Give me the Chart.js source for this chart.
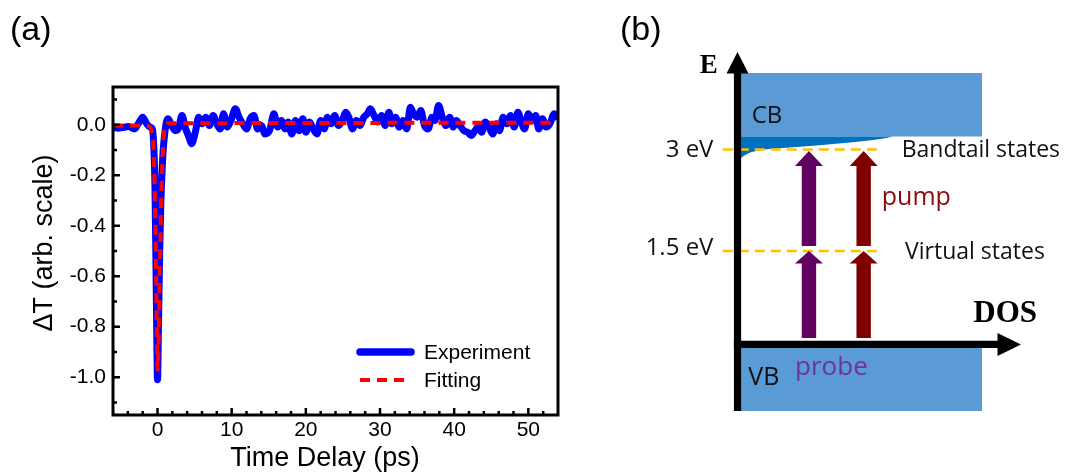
<!DOCTYPE html>
<html><head><meta charset="utf-8">
<script src="https://cdn.jsdelivr.net/npm/chart.js@4.4.1/dist/chart.umd.min.js"></script>
<style>
html,body{margin:0;padding:0;background:#fff;width:1079px;height:475px;overflow:hidden}
#wa{position:absolute;left:0;top:0;width:600px;height:475px}
#wb{position:absolute;left:600px;top:0;width:479px;height:475px}
</style></head><body>
<div id="wa"><canvas id="ca"></canvas></div>
<div id="wb"><canvas id="cb"></canvas></div>
<script>
// ---------- Panel (a) data ----------
const seriesNames = ['Experiment', 'Fitting'];
const axisTitles = ['Time Delay (ps)', 'ΔT (arb. scale)'];
const expTime = [-5.9,-5.3,-4.8,-3.9,-3.1,-2.6,-2.0,-1.45,-1.0,-0.7,-0.48,-0.34,-0.2,-0.1,0,0.15,0.3,0.43,0.58,0.77,0.97,1.2,1.45,1.9,2.4,2.8,3.3,3.8,4.25,4.6,5.1,5.55,6.0,6.5,7.0,7.5,8.0,8.45,8.9,9.4,9.9,10.5,11.0,11.5,12.0,12.5,13.0,13.5,14.0,14.5,15.1,15.7,16.2,16.7,17.2,17.6,18.1,18.6,19.1,19.6,20.0,20.5,21.0,21.5,22.0,22.5,22.9,23.4,23.9,24.4,24.9,25.4,25.8,26.3,26.8,27.3,27.8,28.3,28.7,29.2,29.7,30.2,30.7,31.2,31.6,32.1,32.6,33.1,33.6,34.1,34.5,35.0,35.5,36.0,36.5,37.0,37.4,37.9,38.4,38.9,39.4,39.9,40.3,40.8,41.3,41.8,42.3,42.8,43.2,43.7,44.2,44.7,45.2,45.7,46.1,46.6,47.1,47.6,48.1,48.6,49.0,49.5,50.0,50.5,51.0,51.4,51.9,52.4,52.9,53.5,54.0];
const expSignal = [-0.009,-0.013,-0.011,-0.007,-0.016,0.004,0.030,0.004,-0.009,-0.016,-0.10,-0.25,-0.57,-0.83,-1.01,-0.76,-0.50,-0.33,-0.21,-0.10,-0.036,0.011,0.024,-0.003,-0.023,-0.016,0.037,-0.016,-0.049,-0.075,-0.029,0.030,0.004,0.030,-0.003,0.037,0.004,-0.016,0.044,-0.009,0.017,0.064,0.030,0.004,-0.016,0.024,0.037,-0.016,-0.003,-0.036,-0.023,0.044,-0.009,0.017,-0.016,0.011,-0.036,0.017,-0.023,0.024,-0.029,0.011,-0.016,-0.036,0.017,-0.016,0.030,0.004,0.037,-0.003,0.017,0.050,0.030,-0.016,0.017,-0.003,0.030,0.044,0.064,0.037,0.011,0.037,-0.003,0.050,0.004,0.030,-0.009,0.017,-0.016,0.070,0.044,0.030,0.057,-0.003,-0.016,0.030,0.017,0.077,0.030,-0.003,0.030,-0.009,0.017,-0.003,-0.023,-0.029,-0.042,-0.023,-0.009,-0.029,0.011,-0.009,-0.036,0.004,-0.023,0.030,0.004,0.037,-0.009,0.050,0.017,-0.016,0.044,0.017,0.037,-0.016,0.024,-0.009,0.004,0.044,0.024];
const fitTime = [-6,-1.5,-1.0,-0.7,-0.5,-0.35,-0.2,-0.1,0,0.1,0.2,0.3,0.4,0.5,0.65,0.8,1.0,1.3,54];
const fitSignal = [-0.003,-0.003,-0.01,-0.04,-0.12,-0.3,-0.55,-0.8,-0.97,-0.93,-0.78,-0.6,-0.45,-0.3,-0.15,-0.06,-0.01,0.006,0.008];
const xTickValues = [0,10,20,30,40,50];
const yTickValues = [-1.0,-0.8,-0.6,-0.4,-0.2,0.0];

// ---------- Panel (b) data ----------
const bandNames = ['CB', 'VB'];
const bandTop = [4.13, 0.067];
const bandBottom = [3.19, -0.865];
const bandRight = 8.63;
const tailDOS = [0, 0.09, 0.32, 0.68, 1.25, 2.2, 3.37, 4.56, 5.26, 5.49];
const tailEnergy = [2.86, 2.87, 2.93, 2.98, 3.01, 3.04, 3.08, 3.13, 3.17, 3.19];
const levelEnergy = [3, 1.5];
const levelTickLabels = ['3 eV', '1.5 eV'];
const levelNames = ['Bandtail states', 'Virtual states'];
const levelSpan = [-0.52, 5.13];
const beamNames = ['probe', 'pump'];
const beamDOS = [2.52, 4.45];
const arrowFrom = [0.214, 1.574];
const arrowTo = [1.5, 2.978];
const axisNames = ['E', 'DOS'];
const dosAxisEnergy = 0.118;

const ARIAL = "'Liberation Sans', Arial, sans-serif";
Chart.defaults.font.family = ARIAL;
Chart.defaults.color = '#000';
Chart.defaults.animation = false;

const BLUE = '#0000ff', RED = '#ff0000';

// ---------- Panel (a) ----------
const frameA = {
  id: 'frameA',
  afterDatasetsDraw(chart) {
    const {ctx, chartArea: a, scales: {x, y}} = chart;
    ctx.save();
    ctx.strokeStyle = '#000';
    ctx.lineWidth = 2.5;
    ctx.beginPath();
    for (let v = -4; v <= 54; v += 2) {
      const px = x.getPixelForValue(v);
      if (px <= a.left + 2 || px >= a.right - 2) continue;
      const len = (v % 10 === 0) ? 7 : 4;
      ctx.moveTo(px, a.bottom); ctx.lineTo(px, a.bottom - len);
    }
    for (let k = -11; k <= 1; k++) {
      const py = y.getPixelForValue(k / 10);
      if (py <= a.top + 2 || py >= a.bottom - 2) continue;
      const len = (k % 2 === 0) ? 7 : 4;
      ctx.moveTo(a.left, py); ctx.lineTo(a.left + len, py);
    }
    ctx.stroke();
    ctx.lineWidth = 3;
    ctx.strokeRect(a.left, a.top, a.right - a.left, a.bottom - a.top);
    // legend
    const ds = chart.data.datasets;
    const lx0 = a.left + 247, lx1 = a.left + 298, tx = a.left + 311;
    const rows = [a.bottom - 63, a.bottom - 35];
    ctx.font = '21px ' + ARIAL;
    ctx.textBaseline = 'middle';
    ctx.textAlign = 'left';
    ctx.fillStyle = '#000';
    ds.forEach((d, i) => {
      ctx.save();
      ctx.strokeStyle = d.borderColor;
      ctx.lineWidth = i === 0 ? 7.5 : 4;
      ctx.lineCap = i === 0 ? 'round' : 'butt';
      ctx.setLineDash(i === 0 ? [] : [10, 7]);
      ctx.beginPath(); ctx.moveTo(lx0, rows[i]); ctx.lineTo(i === 0 ? lx1 : lx1 - 6, rows[i]); ctx.stroke();
      ctx.restore();
      ctx.fillText(d.label, tx, rows[i] + 1);
    });
    // axis titles
    ctx.font = '27px ' + ARIAL;
    ctx.textAlign = 'center';
    ctx.textBaseline = 'middle';
    ctx.fillText(axisTitles[0], 325, 459);
    ctx.save();
    ctx.translate(45, 243);
    ctx.rotate(-Math.PI / 2);
    ctx.fillText(axisTitles[1], 0, 0);
    ctx.restore();
    // panel label
    ctx.font = '34px ' + ARIAL;
    ctx.textBaseline = 'alphabetic';
    ctx.textAlign = 'left';
    ctx.fillText('(a)', 10, 40);
    ctx.restore();
  }
};

new Chart(document.getElementById('ca'), {
  type: 'line',
  data: {
    datasets: [
      {label: seriesNames[0], data: expTime.map((t, i) => ({x: t, y: expSignal[i]})),
       borderColor: BLUE, borderWidth: 7, pointRadius: 0, cubicInterpolationMode: 'monotone', order: 1, fill: false},
      {label: seriesNames[1], data: fitTime.map((t, i) => ({x: t, y: fitSignal[i]})),
       borderColor: RED, borderWidth: 4, borderDash: [10, 7], pointRadius: 0, cubicInterpolationMode: 'monotone', order: 0, fill: false}
    ]
  },
  options: {
    responsive: true, maintainAspectRatio: false, animation: false,
    layout: {padding: {left: 0, right: 42, top: 87, bottom: 0}},
    plugins: {legend: {display: false}, tooltip: {enabled: false}},
    scales: {
      x: {
        type: 'linear', min: -6, max: 54,
        afterFit: s => { s.height = 60; },
        afterBuildTicks: s => { s.ticks = xTickValues.map(v => ({value: v})); },
        grid: {display: false, drawTicks: false}, border: {display: false},
        ticks: {padding: 3, font: {size: 21}, maxRotation: 0, autoSkip: false, color: '#000'},
        title: {display: false, text: axisTitles[0]}
      },
      y: {
        type: 'linear', min: -1.15, max: 0.15,
        afterFit: s => { s.width = 113; },
        afterBuildTicks: s => { s.ticks = yTickValues.map(v => ({value: v})); },
        grid: {display: false, drawTicks: false}, border: {display: false},
        ticks: {padding: 7, font: {size: 21}, autoSkip: false, color: '#000', callback: v => Number(v).toFixed(1)},
        title: {display: false, text: axisTitles[1]}
      }
    }
  },
  plugins: [frameA]
});

// ---------- Panel (b) ----------
const SANS = "'Open Sans', 'Liberation Sans', sans-serif";
const SERIF = "'Liberation Serif', 'DejaVu Serif', serif";
const diagramLabels = [
  {text: axisNames[0], x: -0.7, e: 4.126, align: 'right', font: 'bold 27px ' + SERIF, color: '#000'},
  {text: axisNames[1], x: 8.32, e: 0.455, align: 'left', font: 'bold 31px ' + SERIF, color: '#000'},
  {text: bandNames[0], x: 0.5, e: 3.387, align: 'left', font: '24px ' + SANS, color: '#111'},
  {text: bandNames[1], x: 0.38, e: -0.48, align: 'left', font: '25px ' + SANS, color: '#111'},
  {text: levelTickLabels[0], x: -0.85, e: 2.894, align: 'right', font: '24px ' + SANS, color: '#111'},
  {text: levelTickLabels[1], x: -0.85, e: 1.441, align: 'right', font: '24px ' + SANS, color: '#111'},
  {text: levelNames[0], x: 5.79, e: 2.889, align: 'left', font: '23px ' + SANS, color: '#111'},
  {text: levelNames[1], x: 5.91, e: 1.382, align: 'left', font: '23px ' + SANS, color: '#111'},
  {text: beamNames[1], x: 5.09, e: 2.18, align: 'left', font: '25px ' + SANS, color: '#8b0a0a'},
  {text: beamNames[0], x: 2.03, e: -0.332, align: 'left', font: '26px ' + SANS, color: '#7030a0'}
];
const beamColors = ['#600060', '#7f0000'];

function upArrow(ctx, cx, yb, yt, shaftW, headW, headL) {
  ctx.beginPath();
  ctx.moveTo(cx - shaftW / 2, yb);
  ctx.lineTo(cx - shaftW / 2, yt + headL);
  ctx.lineTo(cx - headW / 2, yt + headL);
  ctx.lineTo(cx, yt);
  ctx.lineTo(cx + headW / 2, yt + headL);
  ctx.lineTo(cx + shaftW / 2, yt + headL);
  ctx.lineTo(cx + shaftW / 2, yb);
  ctx.closePath();
  ctx.fill();
}

const diagram = {
  id: 'diagram',
  afterDatasetsDraw(chart) {
    const {ctx, scales: {x, y}} = chart;
    ctx.save();
    beamDOS.forEach((d, i) => {
      ctx.fillStyle = beamColors[i];
      const cx = x.getPixelForValue(d);
      arrowFrom.forEach((f, j) => {
        upArrow(ctx, cx, y.getPixelForValue(f), y.getPixelForValue(arrowTo[j]), 14.4, 28, j === 0 ? 12.5 : 15);
      });
    });
    ctx.fillStyle = '#000';
    const ax = x.getPixelForValue(0);
    const yTop = y.getPixelForValue(y.max);
    const yBot = y.getPixelForValue(bandBottom[1]);
    upArrow(ctx, ax, yBot, yTop, 7.2, 22, 21.5);
    const ay = y.getPixelForValue(dosAxisEnergy);
    const xR = x.getPixelForValue(x.max);
    ctx.beginPath();
    ctx.moveTo(ax - 3.6, ay - 3.6);
    ctx.lineTo(xR - 23.5, ay - 3.6);
    ctx.lineTo(xR - 23.5, ay - 11.5);
    ctx.lineTo(xR, ay);
    ctx.lineTo(xR - 23.5, ay + 11.5);
    ctx.lineTo(xR - 23.5, ay + 3.6);
    ctx.lineTo(ax - 3.6, ay + 3.6);
    ctx.closePath();
    ctx.fill();
    ctx.textBaseline = 'alphabetic';
    diagramLabels.forEach(l => {
      ctx.font = l.font;
      ctx.fillStyle = l.color;
      ctx.textAlign = l.align;
      ctx.fillText(l.text, x.getPixelForValue(l.x), y.getPixelForValue(l.e));
    });
    ctx.font = '34px ' + ARIAL;
    ctx.fillStyle = '#000';
    ctx.textAlign = 'left';
    ctx.fillText('(b)', 20, 40);
    ctx.restore();
  }
};

const bandDatasets = bandTop.map((t, i) => ({
  label: bandNames[i],
  data: [{x: 0, y: t}, {x: bandRight, y: t}],
  fill: {value: bandBottom[i]}, backgroundColor: '#5b9bd5', borderWidth: 0, pointRadius: 0, order: 3
}));
const tailDataset = {
  label: 'tail',
  data: tailDOS.map((d, i) => ({x: d, y: tailEnergy[i]})),
  fill: {value: bandBottom[0]}, backgroundColor: '#0070c0', borderWidth: 0, pointRadius: 0,
  cubicInterpolationMode: 'monotone', order: 2
};
const levelDatasets = levelEnergy.map((e, i) => ({
  label: levelNames[i],
  data: [{x: levelSpan[0], y: e}, {x: levelSpan[1], y: e}],
  borderColor: '#ffc000', borderWidth: 2.5, borderDash: [10, 6], pointRadius: 0, fill: false, order: 1
}));

new Chart(document.getElementById('cb'), {
  type: 'line',
  data: {datasets: [...bandDatasets, tailDataset, ...levelDatasets]},
  options: {
    responsive: true, maintainAspectRatio: false, animation: false,
    layout: {padding: {left: 120.5, right: 58, top: 52, bottom: 63}},
    plugins: {legend: {display: false}, tooltip: {enabled: false}},
    scales: {
      x: {type: 'linear', min: -0.6, max: 10, display: false},
      y: {type: 'linear', min: -0.88, max: 4.44, display: false}
    }
  },
  plugins: [diagram]
});
</script>
</body></html>
